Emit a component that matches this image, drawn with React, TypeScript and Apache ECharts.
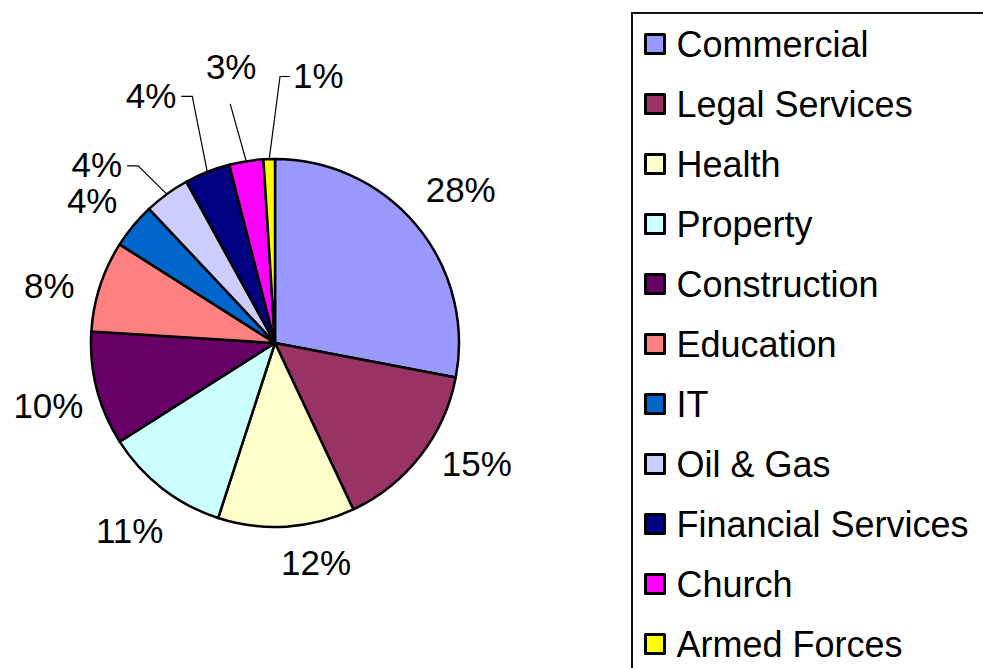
import React, { useEffect, useRef } from "react";
import * as echarts from "echarts";

const categories = [
  "Commercial",
  "Legal Services",
  "Health",
  "Property",
  "Construction",
  "Education",
  "IT",
  "Oil & Gas",
  "Financial Services",
  "Church",
  "Armed Forces",
];
const shares = [28, 15, 12, 11, 10, 8, 4, 4, 4, 3, 1];
const sliceColors = [
  "#9999FF",
  "#993366",
  "#FFFFCC",
  "#CCFFFF",
  "#660066",
  "#FF8080",
  "#0066CC",
  "#CCCCFF",
  "#000080",
  "#FF00FF",
  "#FFFF00",
];

// Label placement (layout only): [angle shift in degrees, distance from centre, leader style]
const labelPlacement: [number, number, string][] = [
  [0, 241, "none"],
  [-7, 235, "none"],
  [-7, 223, "none"],
  [0, 237, "none"],
  [-1, 235, "none"],
  [-3.6, 233, "none"],
  [-1.6, 232, "none"],
  [-9, 252, "elbow"],
  [-5, 277, "elbow"],
  [0, 280, "straight"],
  [11, 271, "elbow"],
];

const CX = 275;
const CY = 343;
const R = 184;
const FONT = "'Liberation Sans', Arial, sans-serif";

export default function App() {
  const ref = useRef<HTMLDivElement>(null);

  useEffect(() => {
    document.body.style.margin = "0";
    if (!ref.current) return;
    const chart = echarts.init(ref.current, undefined, { renderer: "svg" });
    const total = shares.reduce((a, b) => a + b, 0);

    const data = categories.map((name, i) => ({
      name,
      value: shares[i],
      itemStyle: { color: sliceColors[i] },
      labelLine: { show: labelPlacement[i][2] !== "none" },
    }));

    chart.setOption({
      animation: false,
      backgroundColor: "#fff",
      legend: {
        orient: "vertical",
        left: 644,
        top: 24,
        padding: 0,
        itemGap: 20,
        itemWidth: 19,
        itemHeight: 19,
        icon: "rect",
        selectedMode: false,
        itemStyle: { borderColor: "#000", borderWidth: 3 },
        textStyle: {
          fontSize: 36,
          fontFamily: FONT,
          color: "#000",
          lineHeight: 40,
          padding: [0, 0, 0, 7],
        },
        data: categories,
      },
      graphic: [
        {
          type: "rect",
          z: -1,
          shape: { x: 632, y: 13, width: 420, height: 700 },
          style: { fill: "none", stroke: "#111", lineWidth: 2 },
        },
      ],
      series: [
        {
          type: "pie",
          center: [CX, CY],
          radius: R,
          startAngle: 90,
          clockwise: true,
          avoidLabelOverlap: false,
          itemStyle: { borderColor: "#000", borderWidth: 2.5 },
          label: {
            show: true,
            position: "outside",
            formatter: "{c}%",
            fontSize: 35,
            fontFamily: FONT,
            color: "#000",
          },
          labelLine: {
            show: false,
            lineStyle: { color: "#000", width: 1.2 },
          },
          emphasis: { disabled: true },
          labelLayout: (params: any) => {
            const i = params.dataIndex;
            let before = 0;
            for (let k = 0; k < i; k++) before += shares[k];
            const mid = ((before + shares[i] / 2) / total) * 360;
            const [shift, dist, leader] = labelPlacement[i];
            const a = ((mid + shift) * Math.PI) / 180;
            const x = CX + dist * Math.sin(a);
            const y = CY - dist * Math.cos(a);
            const w = params.labelRect.width;
            const h = params.labelRect.height;
            const res: any = { x, y, align: "center", verticalAlign: "middle" };
            if (leader !== "none") {
              const ma = (mid * Math.PI) / 180;
              const ex = CX + R * Math.sin(ma);
              const ey = CY - R * Math.cos(ma);
              if (leader === "elbow") {
                const isLeft = x < ex;
                const endX = isLeft ? x + w / 2 + 5 : x - w / 2 - 3;
                const elbowX = isLeft ? endX + 11 : endX - 10;
                res.labelLinePoints = [
                  [ex, ey],
                  [elbowX, y + 1],
                  [endX, y + 1],
                ];
              } else {
                const endX = x - 1;
                const endY = y + h / 2 + 20;
                res.labelLinePoints = [
                  [ex, ey],
                  [(ex + endX) / 2, (ey + endY) / 2],
                  [endX, endY],
                ];
              }
            }
            return res;
          },
          data,
        },
      ],
    });

    return () => chart.dispose();
  }, []);

  return (
    <div
      ref={ref}
      style={{ position: "absolute", left: 0, top: 0, width: 983, height: 668 }}
    />
  );
}
